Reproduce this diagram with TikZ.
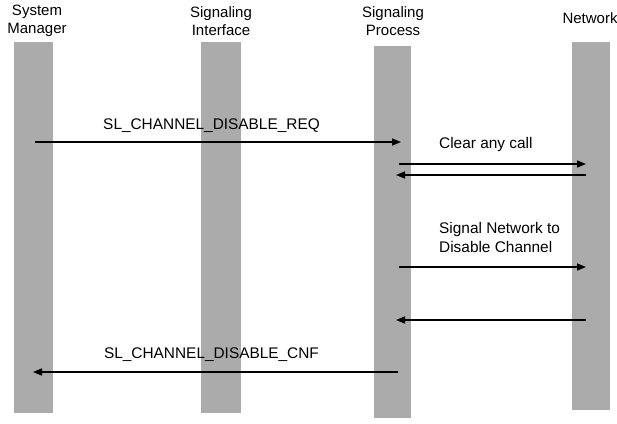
\documentclass[tikz,border=0pt]{standalone}
\usepackage{fontspec}
\setmainfont{Liberation Sans}
\usetikzlibrary{arrows.meta}
\begin{document}
\begin{tikzpicture}[x=1pt,y=-1pt,
  lifebar/.style={fill=black!33, draw=none, inner sep=0pt, minimum width=38pt},
  hdr/.style={font=\fontsize{15}{18}\selectfont, align=center, inner sep=0pt},
  lbl/.style={font=\fontsize{15.4}{19}\selectfont, inner sep=0pt},
  msg/.style={line width=1.4pt, -{Triangle[length=9pt,width=7pt]}}]
\useasboundingbox (0,0) rectangle (617,423);
% lifelines
\node[lifebar, minimum width=39pt, minimum height=371pt] (b1) at (33.5,227.5) {};
\node[lifebar, minimum width=40pt, minimum height=371pt] (b2) at (221,227.5) {};
\node[lifebar, minimum width=37pt, minimum height=372pt] (b3) at (392.5,232) {};
\node[lifebar, minimum width=38pt, minimum height=368pt] (b4) at (591,226) {};
% headers
\node[hdr] (h1) at (37,21) {System\\Manager};
\node[hdr] (h2) at (221,21) {Signaling\\Interface};
\node[hdr] (h3) at (393,21) {Signaling\\Process};
\node[hdr] (h4) at (590,18) {Network};
% message end points
\coordinate (m1s) at (35,142);  \coordinate (m1e) at (401,142);
\coordinate (m2s) at (399,164); \coordinate (m2e) at (586,164);
\coordinate (m3s) at (586,175); \coordinate (m3e) at (396,175);
\coordinate (m4s) at (399,267); \coordinate (m4e) at (586,267);
\coordinate (m5s) at (586,320); \coordinate (m5e) at (396,320);
\coordinate (m6s) at (398,372); \coordinate (m6e) at (33,372);
\draw[msg] (m1s) -- (m1e);
\draw[msg] (m2s) -- (m2e);
\draw[msg] (m3s) -- (m3e);
\draw[msg] (m4s) -- (m4e);
\draw[msg] (m5s) -- (m5e);
\draw[msg] (m6s) -- (m6e);
% labels
\node[lbl] (l1) at (211.5,126) {SL\_CHANNEL\_DISABLE\_REQ};
\node[lbl, anchor=west] (l2) at (439,145) {Clear any call};
\node[lbl, anchor=west, align=left] (l3) at (439,237) {Signal Network to\\Disable Channel};
\node[lbl] (l4) at (211.5,355) {SL\_CHANNEL\_DISABLE\_CNF};
\end{tikzpicture}
\end{document}
